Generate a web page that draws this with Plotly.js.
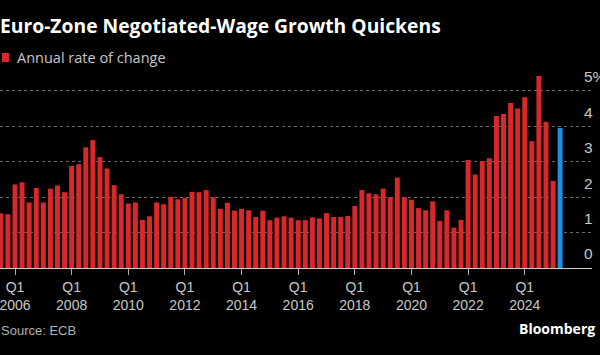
<!DOCTYPE html>
<html>
<head>
<meta charset="utf-8">
<script src="https://cdn.plot.ly/plotly-3.0.1.min.js"></script>
<style>html,body{margin:0;padding:0;background:#000;}#chart{width:600px;height:355px;}</style>
</head>
<body>
<div id="chart"></div>
<script>
// Quarterly data: Q3 2005 .. Q2 2025 (annual rate of change, %)
const startYear = 2005, startQuarter = 3;
const values = [
  1.54, 1.52,
  2.36, 2.42, 1.85, 2.26,
  1.85, 2.24, 2.33, 2.14,
  2.88, 2.93, 3.41, 3.61,
  3.13, 2.81, 2.34, 2.08,
  1.82, 1.85, 1.36, 1.46,
  1.85, 1.80, 2.01, 1.94,
  1.98, 2.15, 2.14, 2.20,
  2.00, 1.67, 1.84, 1.62,
  1.67, 1.63, 1.44, 1.62,
  1.35, 1.42, 1.46, 1.42,
  1.35, 1.35, 1.43, 1.40,
  1.55, 1.44, 1.44, 1.47,
  1.75, 2.20, 2.11, 2.08,
  2.24, 2.00, 2.55, 2.00,
  1.93, 1.69, 1.63, 1.88,
  1.33, 1.63, 1.14, 1.36,
  3.05, 2.64, 3.02, 3.10,
  4.29, 4.35, 4.66, 4.50,
  4.82, 3.58, 5.42, 4.13,
  2.46, 3.95
];
const quarters = [];
for (let i = 0; i < values.length; i++) {
  const q = (startQuarter - 1 + i) % 4 + 1;
  const y = startYear + Math.floor((startQuarter - 1 + i) / 4);
  quarters.push('Q' + q + ' ' + y);
}
const tickVals = ['Q1 2006','Q1 2008','Q1 2010','Q1 2012','Q1 2014','Q1 2016','Q1 2018','Q1 2020','Q1 2022','Q1 2024'];
const tickText = ['Q1<br>2006','Q1<br>2008','Q1<br>2010','Q1<br>2012','Q1<br>2014','Q1<br>2016','Q1<br>2018','Q1<br>2020','Q1<br>2022','Q1<br>2024'];
const yTickVals = [0, 1, 2, 3, 4, 5];
const yTickText = ['0', '1', '2', '3', '4', '5%'];

const RED = '#d8282a', BLUE = '#1f8fe0';
const colors = values.map((v, i) => i === values.length - 1 ? BLUE : RED);

const FONT = 'Liberation Sans, Arial, sans-serif';
const WIDE = 'Open Sans, Liberation Sans, sans-serif';

const trace = {
  type: 'bar', x: quarters, y: values,
  marker: {color: colors, line: {width: 0}},
  hoverinfo: 'skip', showlegend: false
};

const layout = {
  width: 600, height: 355,
  paper_bgcolor: '#000', plot_bgcolor: '#000',
  margin: {l: 0, r: 8, t: 70, b: 87},
  bargap: 0.3,
  font: {family: FONT, color: '#c8c8c8', size: 14},
  title: {
    text: '<b>Euro-Zone Negotiated-Wage Growth Quickens</b>',
    font: {family: WIDE, size: 19.3, color: '#ffffff'},
    x: 0, xref: 'container', xanchor: 'left',
    y: 1 - 26/355, yref: 'container', yanchor: 'middle',
    pad: {l: 0, r: 0, t: 0, b: 0}
  },
  xaxis: {
    type: 'category',
    range: [-0.12, 83.5],
    tickmode: 'array', tickvals: tickVals, ticktext: tickText,
    ticks: 'outside', ticklen: 6, tickcolor: '#aaaaaa', tickwidth: 1,
    tickfont: {size: 14, color: '#c8c8c8', family: FONT},
    showline: true, linecolor: '#d0d0d0', linewidth: 1,
    showgrid: false, zeroline: false, fixedrange: true
  },
  yaxis: {
    side: 'right',
    range: [0, 5.59],
    tickmode: 'array', tickvals: yTickVals, ticktext: yTickText,
    ticks: '', showline: false,
    showgrid: true, gridcolor: '#6a6a6a', griddash: 'dot', gridwidth: 1,
    zeroline: false,
    ticklabelstandoff: -9,
    ticklabelshift: -14,
    tickfont: {size: 15.5, color: '#c8c8c8', family: FONT},
    fixedrange: true
  },
  shapes: [
    {type: 'rect', xref: 'paper', yref: 'paper', x0: 2/592, x1: 9/592,
     y0: (268-62)/198, y1: (268-53)/198, fillcolor: RED, line: {width: 0}}
  ],
  annotations: [
    {text: 'Annual rate of change', xref: 'paper', yref: 'paper',
     x: 15/592, y: (268-57.5)/198, xanchor: 'left', yanchor: 'middle',
     showarrow: false, font: {size: 14.5, color: '#c8c8c8', family: WIDE}},
    {text: 'Source: ECB', xref: 'paper', yref: 'paper',
     x: -1/592, y: (268-330)/198, xanchor: 'left', yanchor: 'middle',
     showarrow: false, font: {size: 13, color: '#b0b0b0', family: FONT}},
    {text: '<b>Bloomberg</b>', xref: 'paper', yref: 'paper',
     x: 597/592, y: (268-328)/198, xanchor: 'right', yanchor: 'middle',
     showarrow: false, font: {size: 14, color: '#ffffff', family: WIDE}}
  ]
};

Plotly.newPlot('chart', [trace], layout, {displayModeBar: false, staticPlot: true});
</script>
</body>
</html>
